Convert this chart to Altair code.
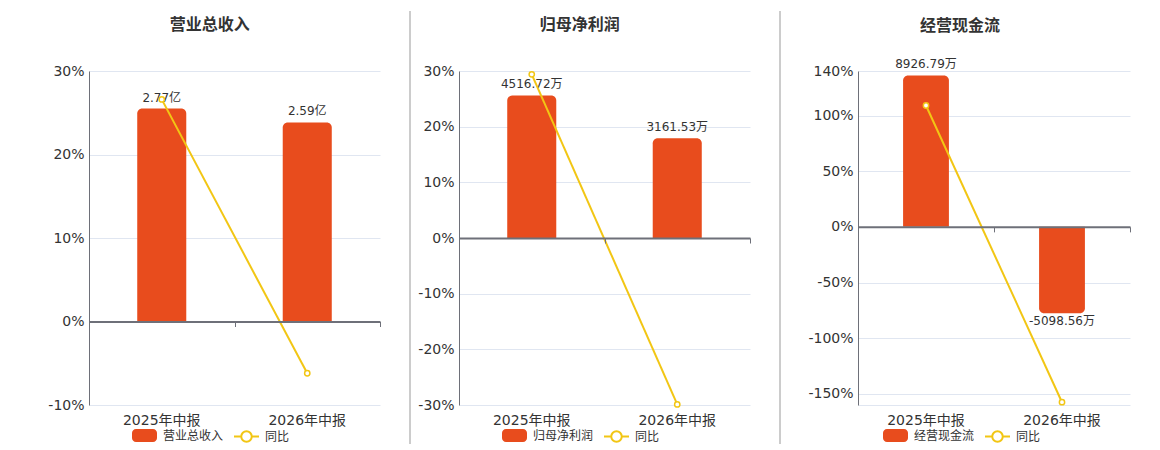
import altair as alt
import pandas as pd

CATS = ["2025年中报", "2026年中报"]
TITLES = ["营业总收入", "归母净利润", "经营现金流"]
YOY_NAME = "同比"

REV = [2.77, 2.59]
REV_LAB = ["2.77亿", "2.59亿"]
REV_YOY = [26.6, -6.2]

NP_ = [4516.72, 3161.53]
NP_LAB = ["4516.72万", "3161.53万"]
NP_YOY = [29.4, -29.9]

CF = [8926.79, -5098.56]
CF_LAB = ["8926.79万", "-5098.56万"]
CF_YOY = [109.0, -157.5]

# percent axes
P1_DOMAIN = [-10, 30]
P1_TICKS = [-10, 0, 10, 20, 30]
P2_DOMAIN = [-30, 30]
P2_TICKS = [-30, -20, -10, 0, 10, 20, 30]
P3_DOMAIN = [-160, 140]
P3_TICKS = [-160, -150, -100, -50, 0, 50, 100, 140]
# height of the first bar as read on each percent axis
BAR0_PCT = [25.5, 25.6, 136.0]

BAR = "#E84C1D"
LINE = "#F2C614"
TXT = "#333333"
AXC = "#6E7079"
GRID = "#E0E6F1"
FONT = "DejaVu Sans, Noto Sans CJK SC, sans-serif"
CJK = "Noto Sans CJK SC"
H = 334
LY = 352

RECT = ("M-0.68,-0.52H0.68A0.32,0.32 0 0 1 1,-0.2V0.2A0.32,0.32 0 0 1 0.68,0.52"
        "H-0.68A0.32,0.32 0 0 1 -1,0.2V-0.2A0.32,0.32 0 0 1 -0.68,-0.52Z")
LINESYM = ("M-1,0H-0.42M0.42,0H1M-0.42,0A0.42,0.42 0 1 1 0.42,0"
           "A0.42,0.42 0 1 1 -0.42,0Z")


def panel(title, vals, labs, yoy, dom, ticks, bar0pct, width, min_ext,
          title_dx, title_off, lx1, lx2, label_expr):
    df = pd.DataFrame({"cat": CATS, "v": vals, "lab": labs, "yoy": yoy,
                       "s": [title] * len(CATS), "ys": [YOY_NAME] * len(CATS)})
    k = vals[0] / bar0pct
    bdom = [dom[0] * k, dom[1] * k]
    xs = alt.Scale(domain=CATS, paddingInner=0, paddingOuter=0)
    bys = alt.Scale(domain=bdom, nice=False, zero=False)
    zero_off = H * (0 - dom[0]) / (dom[1] - dom[0])
    base = alt.Chart(df)

    fill = alt.Fill("s:N", scale=alt.Scale(domain=[title], range=[BAR]),
                    legend=alt.Legend(title=None, orient="none", legendX=lx1, legendY=LY,
                                      symbolType=RECT, symbolSize=625, symbolStrokeWidth=0,
                                      labelFontSize=12, labelColor=TXT, labelFont=FONT,
                                      labelOffset=6))
    x_lab = alt.X("cat:N", scale=xs, axis=alt.Axis(title=None, labelAngle=0, domain=False,
                                                  ticks=False, labelFontSize=14,
                                                  labelColor=TXT, labelFont=FONT,
                                                  labelPadding=8, orient="bottom"))
    x_none = alt.X("cat:N", scale=xs, axis=None)
    yb = alt.Y("v:Q", scale=bys, axis=None)

    bars_pos = base.transform_filter("datum.v >= 0").mark_bar(
        width=alt.RelativeBandSize(0.337), cornerRadiusTopLeft=5, cornerRadiusTopRight=5
    ).encode(x=x_lab, y=yb, y2=alt.datum(0), fill=fill)
    bars_neg = base.transform_filter("datum.v < 0").mark_bar(
        width=alt.RelativeBandSize(0.337), cornerRadiusBottomLeft=5, cornerRadiusBottomRight=5
    ).encode(x=x_none, y=yb, y2=alt.datum(0), fill=fill)
    text_pos = base.transform_filter("datum.v >= 0").mark_text(
        baseline="bottom", dy=-4, fontSize=12, color=TXT, font=FONT
    ).encode(x=x_none, y=yb, text="lab:N")
    text_neg = base.transform_filter("datum.v < 0").mark_text(
        baseline="top", dy=3, fontSize=12, color=TXT, font=FONT
    ).encode(x=x_none, y=yb, text="lab:N")

    line = base.mark_line(
        strokeWidth=2,
        point=alt.OverlayMarkDef(filled=True, fill="white", strokeWidth=1.5, size=28),
    ).encode(
        x=alt.X("cat:N", scale=xs,
                axis=alt.Axis(title=None, labels=False, grid=False, domainColor=AXC,
                              domainWidth=2, tickColor=AXC, tickWidth=1, tickSize=5,
                              tickBand="extent", orient="bottom", offset=-zero_off,
                              zindex=1)),
        y=alt.Y("yoy:Q", scale=alt.Scale(domain=dom, nice=False, zero=False),
                axis=alt.Axis(title=None, orient="left", values=ticks, labelExpr=label_expr,
                              grid=True, gridColor=GRID, domainColor=AXC, ticks=False,
                              labelFontSize=14, labelColor=TXT, labelFont=FONT,
                              labelPadding=5, minExtent=min_ext)),
        stroke=alt.Stroke("ys:N", scale=alt.Scale(domain=[YOY_NAME], range=[LINE]),
                          legend=alt.Legend(title=None, orient="none", legendX=lx2, legendY=LY,
                                            symbolType=LINESYM, symbolSize=625,
                                            symbolStrokeWidth=2, symbolFillColor="white",
                                            labelFontSize=12, labelColor=TXT, labelFont=FONT,
                                            labelOffset=5)),
    )

    return alt.layer(bars_pos, bars_neg, text_pos, text_neg, line).resolve_scale(
        y="independent"
    ).resolve_axis(x="independent").properties(
        width=width, height=H,
        title=alt.TitleParams(text=title, fontSize=16, fontWeight="bold", color=TXT,
                              font=CJK, anchor="middle", frame="group", dx=title_dx,
                              offset=title_off),
    )


def separator():
    return alt.Chart(pd.DataFrame({"d": [0]})).mark_rule(color="#999999", strokeWidth=1).encode(
        x=alt.value(25), y=alt.value(-60), y2=alt.value(373)
    ).properties(width=25, height=H)


PCT = "datum.value + '%'"
p1 = panel(TITLES[0], REV, REV_LAB, REV_YOY, P1_DOMAIN, P1_TICKS, BAR0_PCT[0], 291, 50,
           -24.7, 31, 43, 144, PCT)
p2 = panel(TITLES[1], NP_, NP_LAB, NP_YOY, P2_DOMAIN, P2_TICKS, BAR0_PCT[1], 291, 44,
           -24.7, 31, 43, 144, PCT)
p3 = panel(TITLES[2], CF, CF_LAB, CF_YOY, P3_DOMAIN, P3_TICKS, BAR0_PCT[2], 272, 73,
           -34, 24, 25, 126, "datum.value == -160 ? '' : datum.value + '%'")

chart = alt.hconcat(p1, separator(), p2, separator(), p3, spacing=4).resolve_scale(
    fill="independent", stroke="independent"
).resolve_legend(
    fill="independent", stroke="independent"
).properties(
    padding={"left": 31, "top": 2, "right": 5, "bottom": 0}
).configure_view(stroke=None)

chart.save("out.html", embed_options={"renderer": "svg", "actions": False})
